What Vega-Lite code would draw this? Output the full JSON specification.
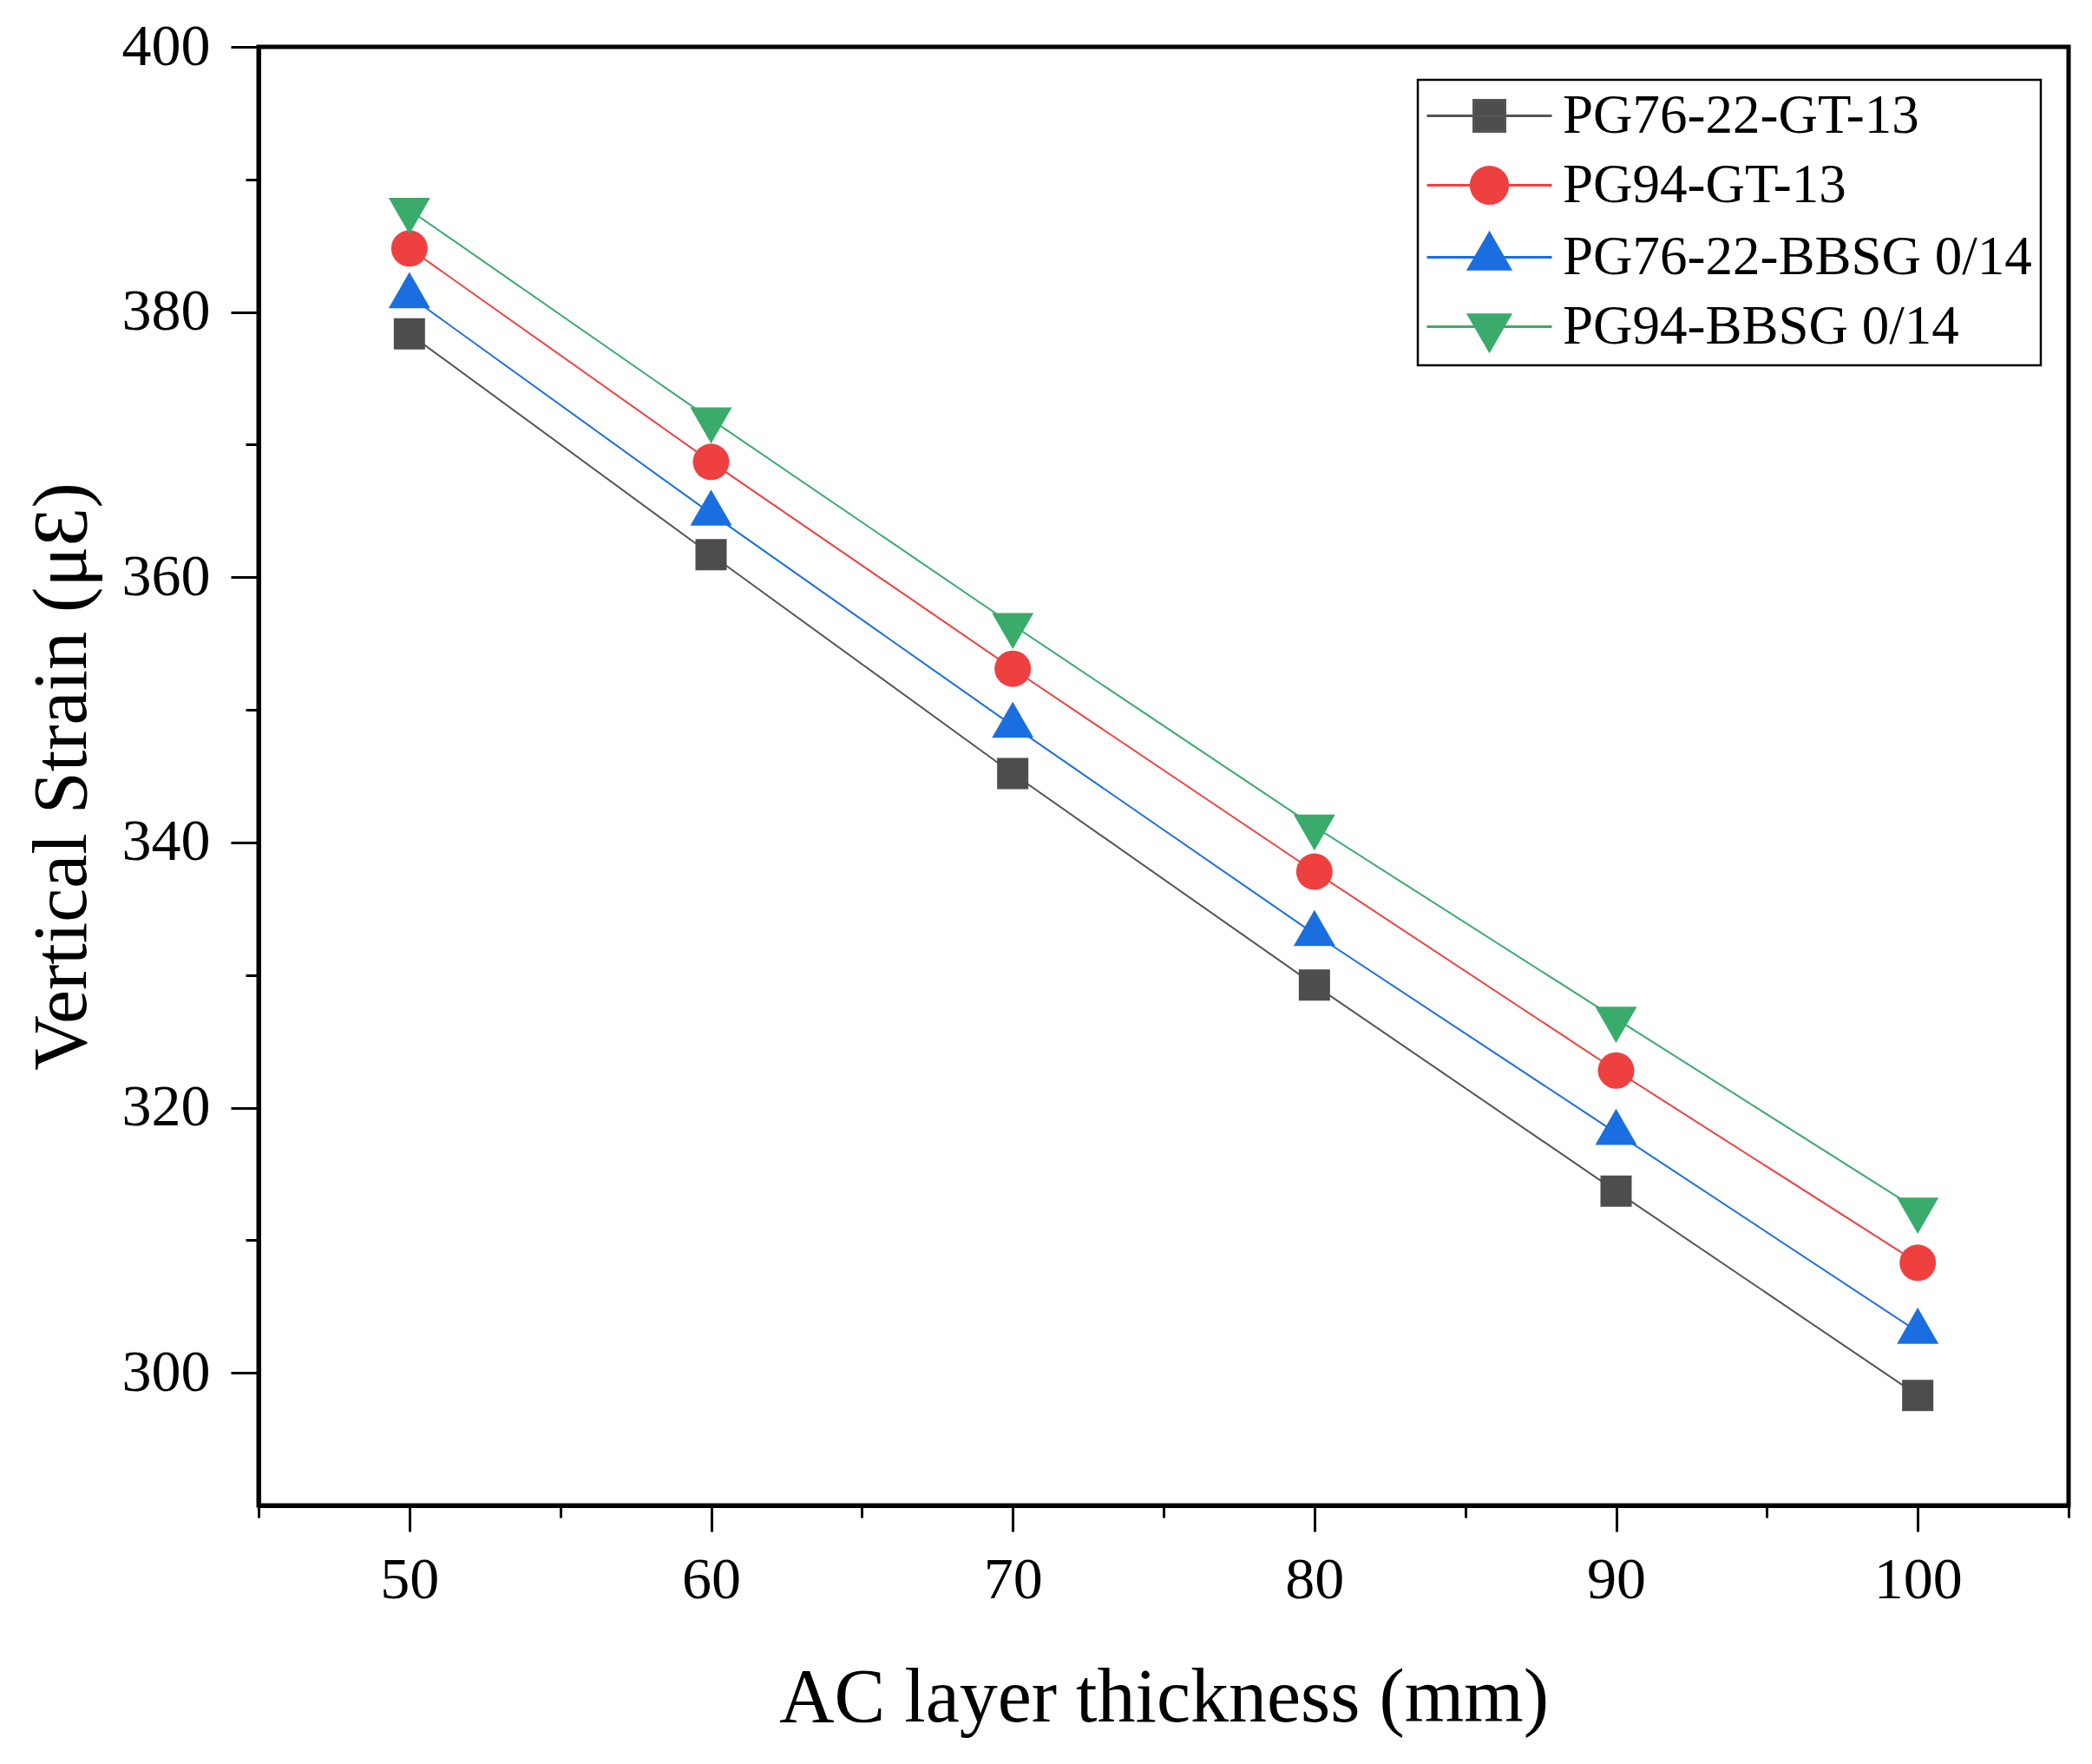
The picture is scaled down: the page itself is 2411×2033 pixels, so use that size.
{
  "$schema": "https://vega.github.io/schema/vega-lite/v6.json",
  "autosize": "none",
  "width": 2086,
  "height": 1681,
  "padding": {"left": 298, "top": 54, "right": 27, "bottom": 298},
  "background": "white",
  "data": {
    "values": [
      {"thickness": 50, "strain": 378.35, "series": "PG76-22-GT-13"},
      {"thickness": 60, "strain": 361.7, "series": "PG76-22-GT-13"},
      {"thickness": 70, "strain": 345.2, "series": "PG76-22-GT-13"},
      {"thickness": 80, "strain": 329.25, "series": "PG76-22-GT-13"},
      {"thickness": 90, "strain": 313.7, "series": "PG76-22-GT-13"},
      {"thickness": 100, "strain": 298.3, "series": "PG76-22-GT-13"},
      {"thickness": 50, "strain": 384.8, "series": "PG94-GT-13"},
      {"thickness": 60, "strain": 368.7, "series": "PG94-GT-13"},
      {"thickness": 70, "strain": 353.1, "series": "PG94-GT-13"},
      {"thickness": 80, "strain": 337.8, "series": "PG94-GT-13"},
      {"thickness": 90, "strain": 322.8, "series": "PG94-GT-13"},
      {"thickness": 100, "strain": 308.3, "series": "PG94-GT-13"},
      {"thickness": 50, "strain": 381.2, "series": "PG76-22-BBSG 0/14"},
      {"thickness": 60, "strain": 364.8, "series": "PG76-22-BBSG 0/14"},
      {"thickness": 70, "strain": 348.8, "series": "PG76-22-BBSG 0/14"},
      {"thickness": 80, "strain": 333.1, "series": "PG76-22-BBSG 0/14"},
      {"thickness": 90, "strain": 318.1, "series": "PG76-22-BBSG 0/14"},
      {"thickness": 100, "strain": 303.1, "series": "PG76-22-BBSG 0/14"},
      {"thickness": 50, "strain": 387.7, "series": "PG94-BBSG 0/14"},
      {"thickness": 60, "strain": 371.9, "series": "PG94-BBSG 0/14"},
      {"thickness": 70, "strain": 356.4, "series": "PG94-BBSG 0/14"},
      {"thickness": 80, "strain": 341.2, "series": "PG94-BBSG 0/14"},
      {"thickness": 90, "strain": 326.7, "series": "PG94-BBSG 0/14"},
      {"thickness": 100, "strain": 312.3, "series": "PG94-BBSG 0/14"}
    ]
  },
  "encoding": {
    "x": {
      "field": "thickness",
      "type": "quantitative",
      "scale": {"domain": [45, 105], "nice": false, "zero": false},
      "axis": {
        "title": "AC layer thickness (mm)",
        "values": [45, 50, 55, 60, 65, 70, 75, 80, 85, 90, 95, 100, 105],
        "tickSize": {"condition": {"test": "datum.value % 10 === 0", "value": 30}, "value": 14},
        "labelExpr": "datum.value % 10 === 0 ? datum.label : ''",
        "labelPadding": 22,
        "titlePadding": 58
      }
    },
    "y": {
      "field": "strain",
      "type": "quantitative",
      "scale": {"domain": [290, 400], "nice": false, "zero": false},
      "axis": {
        "title": "Vertical Strain (μƐ)",
        "values": [300, 310, 320, 330, 340, 350, 360, 370, 380, 390, 400],
        "tickSize": {"condition": {"test": "datum.value % 20 === 0", "value": 32}, "value": 15},
        "labelExpr": "datum.value % 20 === 0 ? datum.label : ''",
        "labelPadding": 24,
        "titlePadding": 24
      }
    }
  },
  "layer": [
    {
      "mark": {"type": "point", "opacity": 0, "strokeWidth": 3},
      "encoding": {
        "fill": {
          "field": "series",
          "type": "nominal",
          "scale": {
            "domain": ["PG76-22-GT-13", "PG94-GT-13", "PG76-22-BBSG 0/14", "PG94-BBSG 0/14"],
            "range": ["#4d4d4d", "#ef4040", "#1a6ee0", "#3aab6b"]
          },
          "legend": {"title": null}
        },
        "stroke": {
          "field": "series",
          "type": "nominal",
          "scale": {
            "domain": ["PG76-22-GT-13", "PG94-GT-13", "PG76-22-BBSG 0/14", "PG94-BBSG 0/14"],
            "range": ["#555555", "#ef4040", "#1a6ee0", "#3aab6b"]
          },
          "legend": {"title": null}
        },
        "shape": {
          "field": "series",
          "type": "nominal",
          "scale": {
            "domain": ["PG76-22-GT-13", "PG94-GT-13", "PG76-22-BBSG 0/14", "PG94-BBSG 0/14"],
            "range": [
              "M-3,0H3M-0.75,-0.75H0.75V0.75H-0.75Z",
              "M-3,0H3M0.88,0A0.88,0.88,0,1,1,-0.88,0A0.88,0.88,0,1,1,0.88,0Z",
              "M-3,0H3M0,-1.155L1,0.577L-1,0.577Z",
              "M-3,0H3M0,1.155L1,-0.577L-1,-0.577Z"
            ]
          },
          "legend": {"title": null}
        }
      }
    },
    {
      "transform": [{"filter": "datum.series === 'PG76-22-GT-13'"}],
      "mark": {"type": "line", "strokeWidth": 2, "color": "#555555"},
      "encoding": {}
    },
    {
      "transform": [{"filter": "datum.series === 'PG94-GT-13'"}],
      "mark": {"type": "line", "strokeWidth": 2, "color": "#ef4040"},
      "encoding": {}
    },
    {
      "transform": [{"filter": "datum.series === 'PG76-22-BBSG 0/14'"}],
      "mark": {"type": "line", "strokeWidth": 2, "color": "#1a6ee0"},
      "encoding": {}
    },
    {
      "transform": [{"filter": "datum.series === 'PG94-BBSG 0/14'"}],
      "mark": {"type": "line", "strokeWidth": 2, "color": "#3aab6b"},
      "encoding": {}
    },
    {
      "transform": [{"filter": "datum.series === 'PG76-22-GT-13'"}],
      "mark": {"type": "point", "filled": true, "opacity": 1, "shape": "square", "size": 1296, "color": "#4d4d4d"},
      "encoding": {}
    },
    {
      "transform": [{"filter": "datum.series === 'PG94-GT-13'"}],
      "mark": {"type": "point", "filled": true, "opacity": 1, "shape": "circle", "size": 1764, "color": "#ef4040"},
      "encoding": {}
    },
    {
      "transform": [{"filter": "datum.series === 'PG76-22-BBSG 0/14'"}],
      "mark": {"type": "point", "filled": true, "opacity": 1, "shape": "M0,-1.155L1,0.577L-1,0.577Z", "size": 2304, "color": "#1a6ee0"},
      "encoding": {}
    },
    {
      "transform": [{"filter": "datum.series === 'PG94-BBSG 0/14'"}],
      "mark": {"type": "point", "filled": true, "opacity": 1, "shape": "M0,1.155L1,-0.577L-1,-0.577Z", "size": 2304, "color": "#3aab6b"},
      "encoding": {}
    }
  ],
  "config": {
    "view": {"stroke": "black", "strokeWidth": 5},
    "axis": {
      "grid": false,
      "domainColor": "black",
      "domainWidth": 5,
      "tickColor": "black",
      "tickWidth": 3,
      "labelFont": "Liberation Serif",
      "labelFontSize": 68,
      "labelColor": "black",
      "labelOverlap": false,
      "labelFlush": false,
      "titleFont": "Liberation Serif",
      "titleFontSize": 88,
      "titleFontWeight": "normal",
      "titleColor": "black"
    },
    "legend": {
      "orient": "none",
      "legendX": 1336,
      "legendY": 38,
      "padding": 10,
      "fillColor": "white",
      "strokeColor": "black",
      "strokeWidth": 2.5,
      "labelFont": "Liberation Serif",
      "labelFontSize": 63,
      "labelColor": "black",
      "labelLimit": 1000,
      "symbolSize": 2304,
      "symbolStrokeWidth": 3,
      "symbolOpacity": 1,
      "symbolOffset": 41,
      "labelOffset": 53,
      "rowPadding": 16
    }
  }
}
